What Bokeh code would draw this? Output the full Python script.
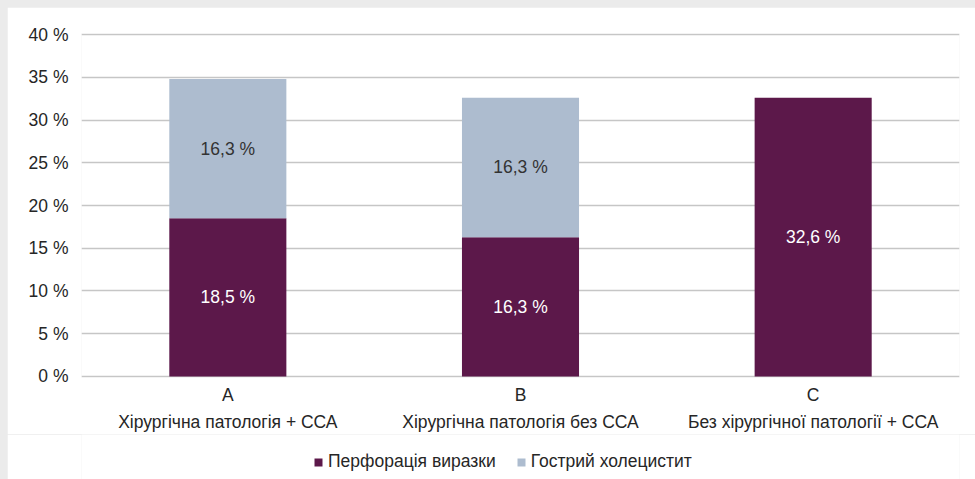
from bokeh.plotting import figure
from bokeh.models import (ColumnDataSource, FactorRange, Range1d, FixedTicker, Legend,
                          LegendItem, CategoricalAxis)
from bokeh.layouts import column
from bokeh.core.properties import value
from bokeh.embed import file_html
from bokeh.resources import INLINE

# Groups and their axis captions (letter on the first line, description on the second)
groups = ["A", "B", "C"]
group_names = [
    "Хірургічна патологія + ССА",
    "Хірургічна патологія без ССА",
    "Без хірургічної патології + ССА",
]
series_names = ["Перфорація виразки", "Гострий холецистит"]
perforation = [18.5, 16.3, 32.6]
cholecystitis = [16.3, 16.3, 0.0]
y_ticks = [0, 5, 10, 15, 20, 25, 30, 35, 40]

FONT = "Liberation Sans"
FS = "17.5px"
TEXT = "#262626"
PURPLE = "#5c184a"
BLUE = "#adbccf"
COLORS = [PURPLE, BLUE]

src = ColumnDataSource(dict(g=groups, perf=perforation, chol=cholecystitis))

p = figure(
    x_range=FactorRange(*groups, range_padding=0),
    y_range=Range1d(-0.12, 40.12),
    frame_width=878, frame_height=344,
    min_border_left=74, min_border_right=16, min_border_top=26, min_border_bottom=56,
    output_backend="svg", toolbar_location=None,
    background_fill_color="white", border_fill_color="white",
)
p.outline_line_color = None
# a parallel range so the descriptions get their own row of labels
p.extra_x_ranges = {"names": FactorRange(*group_names, range_padding=0)}

p.vbar_stack(["perf", "chol"], x="g", width=0.4, color=COLORS, line_color=None, source=src)

# value labels centred in each segment
lx, ly, lt, lc = [], [], [], []
for g, a, b in zip(groups, perforation, cholecystitis):
    for base, v, col in ((0, a, "white"), (a, b, "#333333")):
        if v > 0:
            lx.append(g)
            ly.append(base + v / 2)
            lt.append(f"{v:.1f} %".replace(".", ","))
            lc.append(col)
p.text(x=lx, y=ly, text=lt, text_color=lc, text_align="center", text_baseline="middle",
       text_font=value(FONT), text_font_size=value(FS))

p.xgrid.visible = False
p.ygrid.grid_line_color = "#c6c6c6"
p.ygrid.grid_line_width = 1.5

p.yaxis.ticker = FixedTicker(ticks=y_ticks)
p.yaxis.major_label_overrides = {t: f"{t} %" for t in y_ticks}

name_axis = CategoricalAxis(x_range_name="names")
p.add_layout(name_axis, "below")

for ax in (p.xaxis[0], p.yaxis[0], name_axis):
    ax.axis_line_color = None
    ax.major_tick_line_color = None
    ax.minor_tick_line_color = None
    ax.major_tick_out = 0
    ax.major_tick_in = 0
    ax.minor_tick_out = 0
    ax.major_label_text_font = FONT
    ax.major_label_text_font_size = FS
    ax.major_label_text_color = TEXT
p.yaxis.major_label_standoff = 13
p.xaxis[0].major_label_standoff = 7
name_axis.major_label_standoff = 4

# legend strip under the chart, its frame aligned with the chart's frame
lg = figure(
    frame_width=878, frame_height=46, x_range=Range1d(0, 878), y_range=Range1d(0, 46),
    min_border_left=74, min_border_right=16, min_border_top=0, min_border_bottom=0,
    output_backend="svg", toolbar_location=None,
    x_axis_location=None, y_axis_location=None,
    background_fill_color="white", border_fill_color="white",
)
lg.outline_line_color = None
lg.grid.visible = False
# swatch renderers: one bar each, parked left of the visible range
swatches = [lg.vbar(x=[-500], top=[1], width=1, color=c, line_color=None) for c in COLORS]

legend = Legend(
    items=[LegendItem(label=n, renderers=[r]) for n, r in zip(series_names, swatches)],
    orientation="horizontal", location=(232, 8),
    label_text_font=FONT, label_text_font_size=FS, label_text_color=TEXT,
    glyph_width=10, glyph_height=10, label_standoff=5, spacing=20,
    border_line_color=None, background_fill_alpha=0, padding=0, margin=0,
)
lg.add_layout(legend)

page = column(p, lg, styles={"background-color": "#ebebeb", "padding-left": "7px", "padding-top": "7px"})
open("out.html", "w").write(file_html(page, INLINE))
